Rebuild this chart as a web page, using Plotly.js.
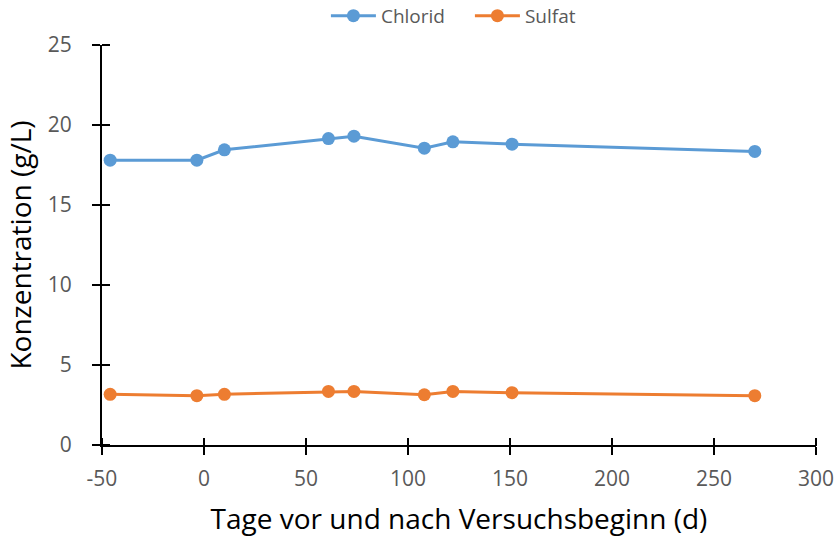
<!DOCTYPE html>
<html>
<head>
<meta charset="utf-8">
<script src="https://cdn.plot.ly/plotly-3.0.1.min.js"></script>
<style>html,body{margin:0;padding:0;background:#fff;}#chart{width:839px;height:541px;}</style>
</head>
<body>
<div id="chart"></div>
<script>
const days = [-46, -3.5, 10, 61, 73.5, 108, 122, 151, 270];
const chlorid = [17.8, 17.8, 18.45, 19.15, 19.3, 18.55, 18.95, 18.8, 18.35];
const sulfat = [3.17, 3.08, 3.17, 3.35, 3.35, 3.14, 3.35, 3.27, 3.08];
const seriesNames = ["Chlorid", "Sulfat"];
const xTickVals = [-50, 0, 50, 100, 150, 200, 250, 300];
const xTickText = ["-50", "0", "50", "100", "150", "200", "250", "300"];
const yTickVals = [0, 5, 10, 15, 20, 25];
const yTickText = ["0", "5", "10", "15", "20", "25"];

const fontFam = "Open Sans, Liberation Sans, sans-serif";
const traces = [
  {x: [], y: [], xaxis: "x2", yaxis: "y2", mode: "markers", showlegend: false, hoverinfo: "skip"},
  {x: days, y: chlorid, name: seriesNames[0], type: "scatter", mode: "lines+markers",
   line: {color: "#5B9BD5", width: 3}, marker: {color: "#5B9BD5", size: 13}},
  {x: days, y: sulfat, name: seriesNames[1], type: "scatter", mode: "lines+markers",
   line: {color: "#ED7D31", width: 3}, marker: {color: "#ED7D31", size: 13}}
];
const layout = {
  width: 839, height: 541,
  margin: {l: 102, r: 23, t: 45, b: 96, autoexpand: false},
  paper_bgcolor: "#fff", plot_bgcolor: "rgba(0,0,0,0)",
  font: {family: fontFam, color: "#595959"},
  showlegend: true,
  legend: {orientation: "h", x: 0.3136, xanchor: "left", y: 1.073, yanchor: "middle",
           entrywidth: 84, entrywidthmode: "pixels", itemwidth: 45,
           font: {size: 19, color: "#595959", family: fontFam}, traceorder: "normal"},
  xaxis: {range: [-50, 300], tickvals: xTickVals, ticktext: xTickText, ticks: "outside", ticklen: 8, tickwidth: 2,
          tickcolor: "#000", showline: true, linecolor: "#000", linewidth: 2, showgrid: false,
          zeroline: false, ticklabelstandoff: 6, automargin: false,
          tickfont: {size: 21, color: "#595959", family: fontFam},
          title: {text: "Tage vor und nach Versuchsbeginn (d)", font: {size: 28, color: "#000", family: fontFam}, standoff: 18}},
  yaxis: {range: [0, 25], tickvals: yTickVals, ticktext: yTickText, ticks: "outside", ticklen: 8, tickwidth: 2,
          tickcolor: "#000", showline: true, linecolor: "#000", linewidth: 2, showgrid: false,
          zeroline: false, ticklabelstandoff: 16, automargin: false,
          tickfont: {size: 21, color: "#595959", family: fontFam},
          title: {text: "Konzentration (g/L)", font: {size: 28, color: "#000", family: fontFam}, standoff: 8}},
  xaxis2: {range: [-50, 300], tickvals: xTickVals, ticks: "outside", ticklen: 8, tickwidth: 2,
           tickcolor: "#000", showticklabels: false, showgrid: false, zeroline: false, showline: false,
           side: "bottom", anchor: "free", position: 0.02, domain: [0, 1]},
  yaxis2: {range: [0, 25], tickvals: yTickVals, ticks: "outside", ticklen: 8, tickwidth: 2,
           tickcolor: "#000", showticklabels: false, showgrid: false, zeroline: false, showline: false,
           side: "left", anchor: "free", position: 0.0112, domain: [0, 1]}
};
Plotly.newPlot("chart", traces, layout, {displayModeBar: false, staticPlot: true});
</script>
</body>
</html>
